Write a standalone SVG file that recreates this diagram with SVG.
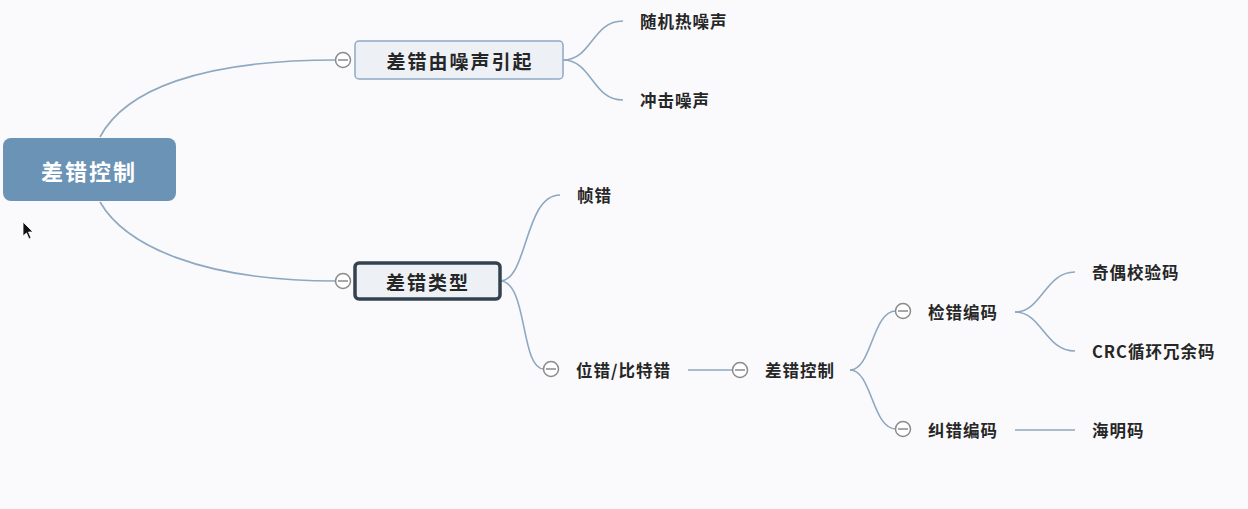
<svg xmlns="http://www.w3.org/2000/svg" width="1248" height="509" viewBox="0 0 1248 509">
<style>
.t{font-family:"Noto Sans CJK SC","Liberation Sans",sans-serif;font-weight:bold;fill:#262626;dominant-baseline:central}
.leaf{font-size:16.5px;letter-spacing:1px}
.main{font-size:19px;letter-spacing:2px;text-anchor:middle}
.c{fill:none;stroke:#8ea8c1;stroke-width:1.6}
.col circle{fill:#fff;stroke:#8a8a8a;stroke-width:1.5}
.col line{stroke:#8a8a8a;stroke-width:1.5}
</style>
<defs>
<g id="collapse" class="col"><circle cx="0" cy="0" r="7.5"/><line x1="-5" y1="0" x2="5" y2="0"/></g>
</defs>
<rect width="1248" height="509" fill="#fafafd"/>
<g id="connectors">
<path class="c" d="M100,137 C125,90 200,60 336,60"/>
<path class="c" d="M100,202 C125,245 200,281 336,281"/>
<path class="c" d="M563,60 C592,60 592,21 623,21"/>
<path class="c" d="M563,60 C592,60 592,100 623,100"/>
<path class="c" d="M500,281 C528,281 524,195 560,195"/>
<path class="c" d="M500,281 C528,281 520,369 544,369"/>
<path class="c" d="M688,370 L732,370"/>
<path class="c" d="M850,370 C872,370 872,311 896,311"/>
<path class="c" d="M850,370 C872,370 872,429 896,429"/>
<path class="c" d="M1015,312 C1042,312 1045,272 1075,272"/>
<path class="c" d="M1015,312 C1042,312 1045,351 1075,351"/>
<path class="c" d="M1015,430 L1075,430"/>
</g>
<g id="root">
<rect x="3" y="138" width="173" height="63" rx="8" fill="#6b93b5"/>
<text class="t" x="89" y="170" font-size="22" letter-spacing="2" text-anchor="middle" style="fill:#fff">差错控制</text>
</g>
<g id="n-noise">
<rect x="355" y="41" width="208" height="38" rx="4" fill="#edf1f6" stroke="#8fa9c4" stroke-width="1.5"/>
<text class="t main" x="460" y="60">差错由噪声引起</text>
<use href="#collapse" x="343" y="60"/>
</g>
<g id="n-type">
<rect x="355" y="263" width="145" height="36" rx="4" fill="#edf1f6" stroke="#34414f" stroke-width="3.5"/>
<text class="t main" x="428" y="281">差错类型</text>
<use href="#collapse" x="343" y="281"/>
</g>
<g id="n-rand"><text class="t leaf" x="640" y="21">随机热噪声</text></g>
<g id="n-impulse"><text class="t leaf" x="640" y="100">冲击噪声</text></g>
<g id="n-frame"><text class="t leaf" x="577" y="195">帧错</text></g>
<g id="n-bit"><use href="#collapse" x="551" y="369"/><text class="t leaf" x="576" y="370">位错/比特错</text></g>
<g id="n-ctrl"><use href="#collapse" x="740" y="370"/><text class="t leaf" x="765" y="370">差错控制</text></g>
<g id="n-detect"><use href="#collapse" x="903" y="311"/><text class="t leaf" x="928" y="312">检错编码</text></g>
<g id="n-correct"><use href="#collapse" x="903" y="429"/><text class="t leaf" x="928" y="430">纠错编码</text></g>
<g id="n-parity"><text class="t leaf" x="1092" y="272">奇偶校验码</text></g>
<g id="n-crc"><text class="t leaf" x="1092" y="351">CRC循环冗余码</text></g>
<g id="n-hamming"><text class="t leaf" x="1092" y="430">海明码</text></g>
<polygon points="23,222 23,236 26.5,233 29,239 31,238 28.5,232 33,232" fill="#111" stroke="#fff" stroke-width="0.8"/>
</svg>
